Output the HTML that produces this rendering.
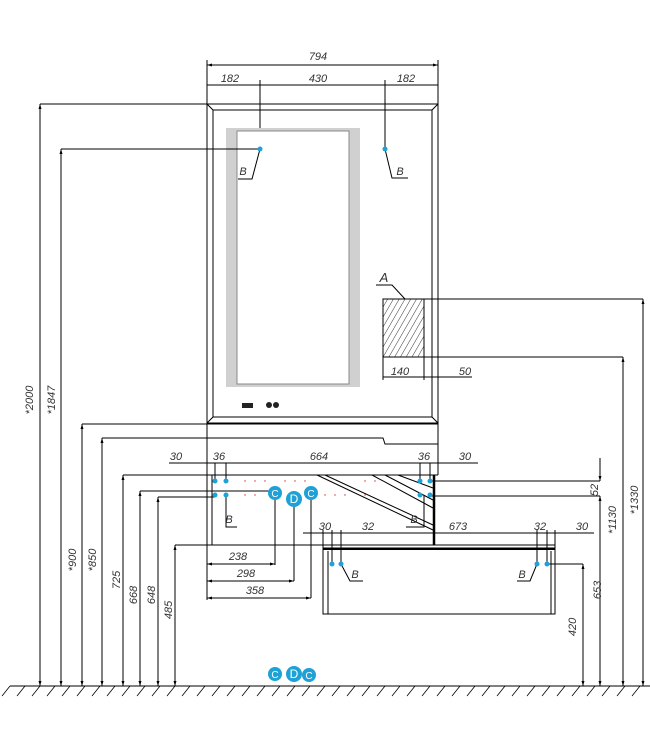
<!DOCTYPE html><html><head><style>body{margin:0;background:#fff}svg{display:block}text{font-family:"Liberation Sans",sans-serif;font-style:italic;font-size:11px;fill:#333}</style></head><body>
<svg width="650" height="744" viewBox="0 0 650 744" xmlns="http://www.w3.org/2000/svg">
<defs>
<marker id="a" viewBox="0 0 10 10" refX="10" refY="5" markerWidth="7" markerHeight="5" orient="auto-start-reverse"><path d="M0,2 L10,5 L0,8z" fill="#000"/></marker>
<pattern id="h" width="5" height="5" patternUnits="userSpaceOnUse" patternTransform="rotate(30)"><line x1="0" y1="0" x2="0" y2="5" stroke="#000" stroke-width="0.8"/></pattern>
</defs>
<g stroke="#000" stroke-width="1" fill="none">
<!-- top dims -->
<line x1="207" y1="65" x2="438" y2="65" marker-start="url(#a)" marker-end="url(#a)"/>
<line x1="207" y1="85" x2="438" y2="85"/>
<line x1="207" y1="60" x2="207" y2="104"/><line x1="438" y1="60" x2="438" y2="104"/>
<line x1="260" y1="80" x2="260" y2="149"/><line x1="385" y1="80" x2="385" y2="149"/>
<!-- panel -->
<rect x="207" y="104" width="231" height="319"/>
<rect x="213" y="110" width="219" height="307"/>
<path d="M207,104L213,110M438,104L432,110M207,423L213,417M438,423L432,417"/>
<rect x="226" y="128" width="134" height="259" fill="#d0d0d0" stroke="none"/>
<rect x="237" y="131" width="112" height="253" fill="#fff" stroke="#888"/>
<!-- left verticals -->
<line x1="40" y1="104" x2="207" y2="104"/><line x1="40" y1="104" x2="40" y2="686" marker-start="url(#a)" marker-end="url(#a)"/>
<line x1="61" y1="149" x2="260" y2="149"/><line x1="61" y1="149" x2="61" y2="686" marker-start="url(#a)" marker-end="url(#a)"/>
<line x1="82" y1="424" x2="438" y2="424"/><line x1="82" y1="424" x2="82" y2="686" marker-start="url(#a)" marker-end="url(#a)"/>
<path d="M102,438H383L385,444H438"/><line x1="102" y1="438" x2="102" y2="686" marker-start="url(#a)" marker-end="url(#a)"/>
<line x1="123" y1="475" x2="438" y2="475"/><line x1="123" y1="475" x2="123" y2="686" marker-start="url(#a)" marker-end="url(#a)"/>
<line x1="140" y1="491" x2="275" y2="491"/><line x1="140" y1="491" x2="140" y2="686" marker-start="url(#a)" marker-end="url(#a)"/>
<line x1="158" y1="497" x2="215" y2="497"/><line x1="158" y1="497" x2="158" y2="686" marker-start="url(#a)" marker-end="url(#a)"/>
<line x1="175" y1="545" x2="555" y2="545"/><line x1="175" y1="545" x2="175" y2="686" marker-start="url(#a)" marker-end="url(#a)"/>
<!-- B leaders top -->
<path d="M260,149L252,179H238M385,149L392,178H408"/>
<!-- A box -->
<rect x="383" y="299" width="41" height="58" fill="url(#h)"/>
<path d="M376,285H392L405,299"/>
<line x1="424" y1="299" x2="643" y2="299"/><line x1="643" y1="299" x2="643" y2="686" marker-start="url(#a)" marker-end="url(#a)"/>
<line x1="383" y1="357" x2="623" y2="357"/><line x1="623" y1="357" x2="623" y2="686" marker-start="url(#a)" marker-end="url(#a)"/>
<path d="M383,357V380M424,357V380"/>
<line x1="383" y1="377" x2="472" y2="377"/>
<!-- cabinet -->
<line x1="207" y1="423" x2="207" y2="600"/><line x1="438" y1="423" x2="438" y2="475"/>
<line x1="212" y1="475" x2="212" y2="545"/>
<line x1="169" y1="463" x2="478" y2="463"/>
<path d="M215,463V481M226,463V481M420,463V481M430,463V481"/>
<line x1="434" y1="475" x2="434" y2="545" stroke-width="2.5"/>
<path d="M317,475L433,530M325,475L433,525M372,475L433,508M385,475L433,500M398,475L433,488"/>
<line x1="430" y1="481" x2="600" y2="481"/><line x1="430" y1="496" x2="600" y2="496"/>
<line x1="600" y1="458" x2="600" y2="481" marker-end="url(#a)"/>
<line x1="600" y1="496" x2="600" y2="686" marker-start="url(#a)" marker-end="url(#a)"/>
<path d="M226,495V527H237M424,495V527H406"/>
<path d="M275,494V565M294,498V581M311,493V598"/>
<line x1="207" y1="564" x2="275" y2="564" marker-start="url(#a)" marker-end="url(#a)"/>
<line x1="207" y1="581" x2="294" y2="581" marker-start="url(#a)" marker-end="url(#a)"/>
<line x1="207" y1="598" x2="311" y2="598" marker-start="url(#a)" marker-end="url(#a)"/>
<line x1="303" y1="533" x2="594" y2="533"/>
<path d="M323,530V548M332,530V564M341,530V564M537,530V564M547,530V564M555,530V548"/>
<!-- drawer -->
<rect x="323" y="548" width="232" height="66"/>
<line x1="323" y1="549" x2="555" y2="549" stroke-width="2"/>
<path d="M328,551V614M551,551V614"/>
<path d="M341,564L350,581H363M537,564L530,581H517"/>
<line x1="547" y1="564" x2="583" y2="564"/>
<line x1="583" y1="564" x2="583" y2="686" marker-start="url(#a)" marker-end="url(#a)"/>
<!-- floor -->
<line x1="10" y1="686" x2="650" y2="686"/>
</g>
<g stroke="#000" stroke-width="0.8">
<path d="M10,686l-8,10M25,686l-8,10M40,686l-8,10M55,686l-8,10M70,686l-8,10M85,686l-8,10M100,686l-8,10M115,686l-8,10M130,686l-8,10M145,686l-8,10M160,686l-8,10M175,686l-8,10M190,686l-8,10M205,686l-8,10M220,686l-8,10M235,686l-8,10M250,686l-8,10M265,686l-8,10M280,686l-8,10M295,686l-8,10M310,686l-8,10M325,686l-8,10M340,686l-8,10M355,686l-8,10M370,686l-8,10M385,686l-8,10M400,686l-8,10M415,686l-8,10M430,686l-8,10M445,686l-8,10M460,686l-8,10M475,686l-8,10M490,686l-8,10M505,686l-8,10M520,686l-8,10M535,686l-8,10M550,686l-8,10M565,686l-8,10M580,686l-8,10M595,686l-8,10M610,686l-8,10M625,686l-8,10M640,686l-8,10"/>
</g>
<g fill="#c33"><circle cx="245" cy="481" r=".7"/><circle cx="255" cy="481" r=".7"/><circle cx="265" cy="481" r=".7"/><circle cx="285" cy="481" r=".7"/><circle cx="295" cy="481" r=".7"/><circle cx="305" cy="481" r=".7"/><circle cx="365" cy="481" r=".7"/><circle cx="375" cy="481" r=".7"/><circle cx="245" cy="495" r=".7"/><circle cx="255" cy="495" r=".7"/><circle cx="325" cy="495" r=".7"/><circle cx="335" cy="495" r=".7"/><circle cx="345" cy="495" r=".7"/><circle cx="365" cy="495" r=".7"/></g>
<g fill="#1da1d6">
<circle cx="260" cy="149" r="2.5"/><circle cx="385" cy="149" r="2.5"/>
<circle cx="215" cy="481" r="2.5"/><circle cx="226" cy="481" r="2.5"/><circle cx="420" cy="481" r="2.5"/><circle cx="430" cy="481" r="2.5"/>
<circle cx="215" cy="495" r="2.5"/><circle cx="226" cy="495" r="2.5"/><circle cx="420" cy="495" r="2.5"/><circle cx="430" cy="495" r="2.5"/>
<circle cx="332" cy="564" r="2.5"/><circle cx="341" cy="564" r="2.5"/><circle cx="537" cy="564" r="2.5"/><circle cx="547" cy="564" r="2.5"/>
<circle cx="275" cy="493" r="7"/><circle cx="294" cy="499" r="8"/><circle cx="311" cy="493" r="7"/>
<circle cx="275" cy="674" r="7"/><circle cx="294" cy="674" r="8"/><circle cx="309" cy="675" r="7"/>
</g>
<g fill="#fff" font-family="Liberation Sans" font-size="10" text-anchor="middle">
<text x="275" y="497" style="fill:#fff;font-style:normal;font-size:10px" text-anchor="middle">C</text><text x="294" y="503" style="fill:#fff;font-style:normal;font-size:12px" text-anchor="middle">D</text><text x="311" y="497" style="fill:#fff;font-style:normal;font-size:10px" text-anchor="middle">C</text>
<text x="275" y="678" style="fill:#fff;font-style:normal;font-size:10px" text-anchor="middle">C</text><text x="294" y="678" style="fill:#fff;font-style:normal;font-size:12px" text-anchor="middle">D</text><text x="309" y="679" style="fill:#fff;font-style:normal;font-size:10px" text-anchor="middle">C</text>
</g>
<rect x="242" y="403" width="11" height="5" fill="#222"/><circle cx="269" cy="405" r="3" fill="#222"/><circle cx="276" cy="405" r="3" fill="#222"/>
<g text-anchor="middle">
<text x="318" y="60">794</text><text x="230" y="82">182</text><text x="318" y="82">430</text><text x="406" y="82">182</text>
<text x="243" y="175">B</text><text x="400" y="175">B</text><text x="384" y="282" style="font-size:13px">A</text>
<text x="400" y="375">140</text><text x="465" y="375">50</text>
<text x="176" y="460">30</text><text x="219" y="460">36</text><text x="319" y="460">664</text><text x="424" y="460">36</text><text x="465" y="460">30</text>
<text x="229" y="523">B</text><text x="414" y="523">B</text>
<text x="238" y="560">238</text><text x="246" y="577">298</text><text x="255" y="594">358</text>
<text x="325" y="530">30</text><text x="368" y="530">32</text><text x="458" y="530">673</text><text x="540" y="530">32</text><text x="582" y="530">30</text>
<text x="355" y="578">B</text><text x="522" y="578">B</text>
<text transform="translate(33,400) rotate(-90)">*2000</text>
<text transform="translate(55,400) rotate(-90)">*1847</text>
<text transform="translate(76,560) rotate(-90)">*900</text>
<text transform="translate(96,560) rotate(-90)">*850</text>
<text transform="translate(120,580) rotate(-90)">725</text>
<text transform="translate(137,595) rotate(-90)">668</text>
<text transform="translate(155,595) rotate(-90)">648</text>
<text transform="translate(172,610) rotate(-90)">485</text>
<text transform="translate(598,490) rotate(-90)">52</text>
<text transform="translate(601,590) rotate(-90)">653</text>
<text transform="translate(576,627) rotate(-90)">420</text>
<text transform="translate(616,520) rotate(-90)">*1130</text>
<text transform="translate(638,500) rotate(-90)">*1330</text>
</g>
</svg></body></html>
